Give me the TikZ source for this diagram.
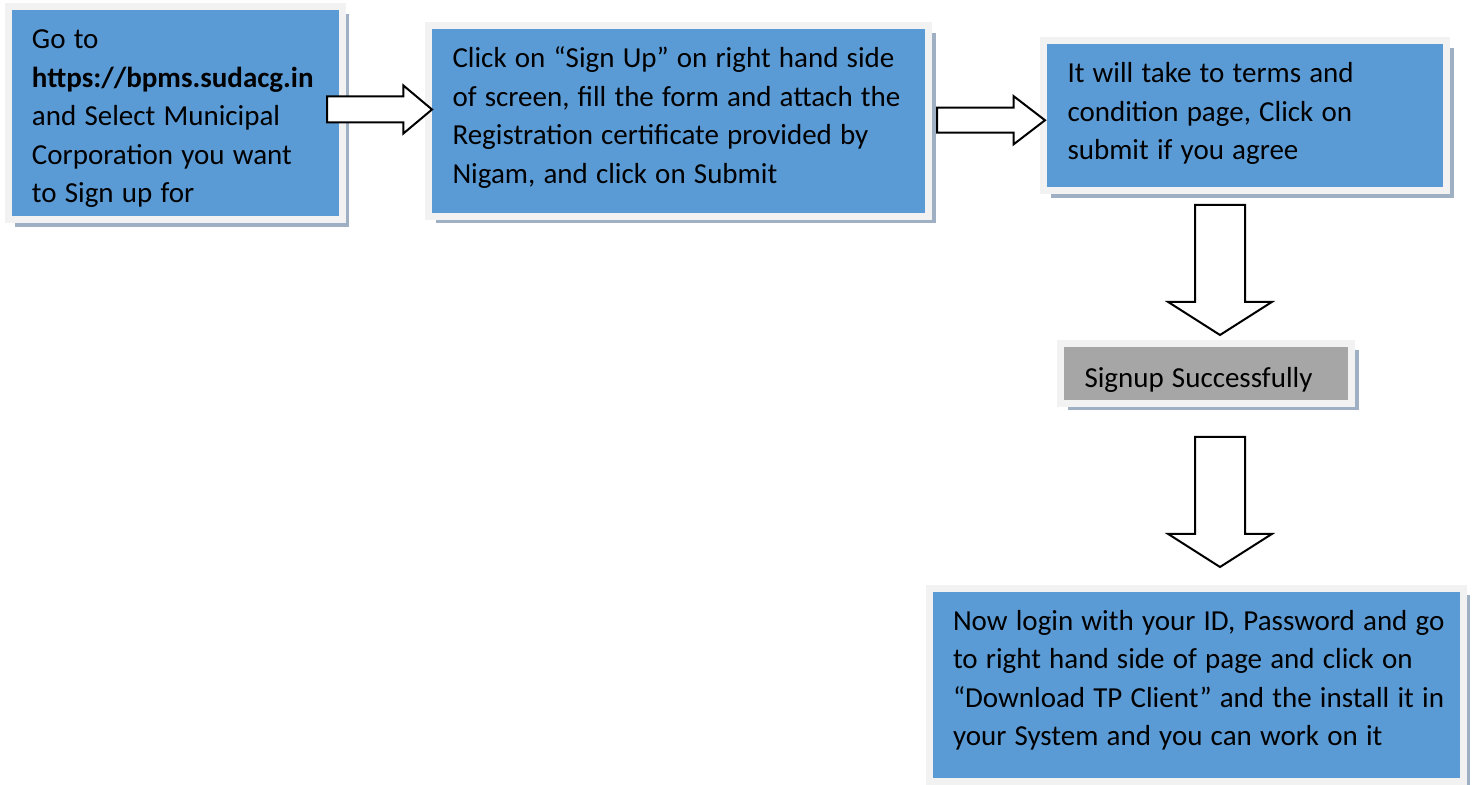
\documentclass[tikz,border=0pt]{standalone}
\usepackage{fontspec}
\setmainfont{Carlito}
\usetikzlibrary{shapes.arrows,shadows,calc}
\definecolor{boxblue}{RGB}{91,155,213}
\definecolor{boxgrey}{RGB}{166,166,166}
\definecolor{framegrey}{RGB}{242,242,242}
\definecolor{shadowblue}{RGB}{160,176,196}
\newcommand{\steplines}[1]{%
    \spaceskip=4.1pt plus 1pt minus 0.5pt\relax
    \begin{tabular}[t]{@{}l@{}}#1\end{tabular}}
\tikzset{
    block arrow/.style={
        single arrow,
        draw=black,
        fill=white,
        line width=1pt,
        inner sep=0pt,
        outer sep=0pt,
        text width=0pt,
        text depth=0pt
    }
}

\begin{document}
\begin{tikzpicture}[x=0.5pt, y=-0.5pt]

    \tikzstyle{stepbox} = [
        rectangle,
        draw=framegrey,
        line width=3.5pt,
        fill=boxblue,
        anchor=north west,
        inner xsep=12pt,
        inner ysep=0pt,
        outer sep=0pt,
        text height=21pt,
        font=\fontsize{14.5pt}{19.25pt}\selectfont,
        general shadow={fill=shadowblue, shadow xshift=3.5pt, shadow yshift=-3.5pt}
    ]

    \useasboundingbox (0,0) rectangle (1477,785);

    % Les étapes
    \node[stepbox, minimum width=167pt, minimum height=106.5pt, text width=143pt, text depth=85.5pt] (goto) at (8,7)
        {\steplines{Go to\\ \textbf{https://bpms.sudacg.in}\\ and Select Municipal\\ Corporation you want\\ to Sign up for}};
    \node[stepbox, minimum width=250pt, minimum height=95.25pt, text width=226pt, text depth=74.25pt] (click) at (428.5,26)
        {\steplines{Click on “Sign Up” on right hand side\\ of screen, fill the form and attach the\\ Registration certificate provided by\\ Nigam, and click on Submit}};
    \node[stepbox, minimum width=201.5pt, minimum height=75pt, text width=177.5pt, text depth=54pt] (terms) at (1043.5,41)
        {\steplines{It will take to terms and\\ condition page, Click on\\ submit if you agree}};
    \node[stepbox, fill=boxgrey, minimum width=145.5pt, minimum height=30pt, text width=121.5pt,
          text height=22pt, text depth=8pt] (signup) at (1060.5,343.5)
        {\steplines{Signup Successfully}};
    \node[stepbox, minimum width=267pt, minimum height=96.5pt, text width=243pt, text depth=75.5pt] (login) at (929,588)
        {\steplines{Now login with your ID, Password and go\\ to right hand side of page and click on\\ “Download TP Client” and the install it in\\ your System and you can work on it}};

    % Les flèches
    \node[block arrow, anchor=tail, minimum height=52.5pt, text height=12pt,
          single arrow head extend=5.5pt, single arrow tip angle=80] (a1) at ($(goto.east)+(-15,-4)$) {};
    \node[block arrow, anchor=tail, minimum height=54pt, text height=11.5pt,
          single arrow head extend=5.75pt, single arrow tip angle=75] (a2) at ($(click.east)+(8.5,-1)$) {};
    \node[block arrow, anchor=tail, rotate=-90, minimum height=65pt, text height=24pt,
          single arrow head extend=13.5pt, single arrow tip angle=115] (a3) at ($(terms.south)+(-25,14)$) {};
    \node[block arrow, anchor=tail, rotate=-90, minimum height=65pt, text height=24pt,
          single arrow head extend=13.5pt, single arrow tip angle=115] (a4) at ($(signup.south)+(14,33.5)$) {};

\end{tikzpicture}
\end{document}
